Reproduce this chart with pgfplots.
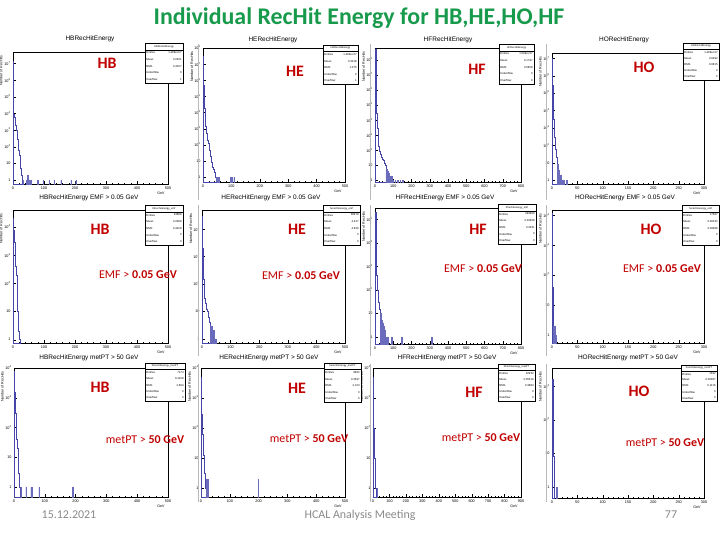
\documentclass[border=0pt]{standalone}
\usepackage{fontspec}
\setmainfont{Carlito}
\newfontfamily\rootfont{Liberation Sans}
\usepackage{pgfplots}
\pgfplotsset{compat=1.18}
\definecolor{titlegreen}{RGB}{24,154,76}
\definecolor{labred}{RGB}{192,0,0}
\definecolor{footgray}{RGB}{137,137,137}
\definecolor{histline}{RGB}{70,70,170}
\definecolor{histfill}{RGB}{175,175,228}
\pgfplotsset{
 rootaxis/.style={scale only axis, anchor=north west, log origin=infty,
  axis line style={line width=0.4pt}, every tick/.style={black,line width=0.25pt},
  major tick length=2.6pt, minor tick length=1.4pt,
  xtick pos=bottom, ytick pos=left,
  ytickten={0,1,...,9},
  tick label style={font=\rootfont\fontsize{3.8}{4}\selectfont},
  /pgf/number format/assume math mode=true,
  xticklabel style={yshift=1pt},
  yticklabel style={xshift=1pt},
  yticklabel={\pgfmathtruncatemacro{\ee}{round(\tick/2.302585093)}\ifnum\ee=0 1\else\ifnum\ee=1 10\else 10\textsuperscript{\ee}\fi\fi},
  minor x tick num=4,
  xmin=0,
  xlabel={GeV}, ylabel={Number of RecHits},
  label style={font=\rootfont\fontsize{3.6}{4}\selectfont},
  xlabel style={at={(axis description cs:1,0)}, anchor=north east, yshift=-4.5pt},
  ylabel style={at={(axis description cs:-0.045,1)}, anchor=south east},
 },
 histl/.style={const plot, no marks, draw=histline, line width=0.35pt},
 hist/.style={ybar, bar shift=0pt, draw=histline!80, fill=histfill, line width=0.22pt},
}
\newcommand{\statbox}[9]{%
 \begin{scope}[shift={(#1bp,-#2bp)}, x=1bp, y=-1bp]
  \draw[line width=0.3pt, fill=white] (0,0) rectangle (#3,#4);
  \draw[line width=0.2pt] (0,#4/6) -- (#3,#4/6);
  \node[font=\rootfont\fontsize{2.6}{3}\selectfont, inner sep=0pt] at (#3/2,#4/12) {#5};
  \foreach \sn/\sv [count=\i] in {Entries/#6, Mean/#7, RMS/#8, Underflow/0, Overflow/#9} {
    \node[font=\rootfont\fontsize{2.8}{3}\selectfont, anchor=west, inner sep=0pt] at (1.2,{#4*(2*\i+1)/12}) {\sn};
    \node[font=\rootfont\fontsize{2.8}{3}\selectfont, anchor=east, inner sep=0pt] at (#3-1.2,{#4*(2*\i+1)/12}) {\sv};
  }
 \end{scope}}
\newcommand{\detlab}[3]{\node[font=\bfseries\fontsize{16}{16}\selectfont, text=labred] at (#1bp,-#2bp) {#3};}
\newcommand{\cutlab}[4]{\node[font=\fontsize{12}{12}\selectfont, text=labred] at (#1bp,-#2bp) {#3 \textbf{#4}};}
\newcommand{\ptitle}[3]{\node[font=\rootfont\fontsize{6.5}{6.5}\selectfont] at (#1bp,-#2bp) {#3};}
\begin{document}
\begin{tikzpicture}
\path[use as bounding box] (0,0) rectangle (720bp,-540bp);
% ---------------- Row 1
\begin{semilogyaxis}[rootaxis, at={(13bp,-52bp)}, width=155bp, height=132bp, xmax=500, ymin=0.57, ymax=5e7, xtick={0,100,...,500}]
\addplot[histl] coordinates {(0,1.5e7)(2,9000)(4,6000)(6,3500)(8,2000)(10,1000)(12,600)(14,300)(16,150)(18,60)(20,30)(22,12)(24,5)(26,2)(28,1)(30,1)} \closedcycle;
\addplot[hist, bar width=2] coordinates {(33,1)(43,1)(47,2)(49,1)(53,1)(59,1)(79,1)(97,1)(117,1)(133,1)(155,1)(187,1)(203,1)};
\end{semilogyaxis}
\begin{semilogyaxis}[rootaxis, at={(203bp,-48bp)}, width=142bp, height=134bp, xmax=500, ymin=0.5, ymax=1e8, xtick={0,100,...,500}]
\addplot[histl] coordinates {(0,3e7)(2,5e5)(4,2e4)(6,3000)(8,1500)(10,900)(12,500)(14,300)(16,200)(18,120)(20,80)(22,50)(24,30)(26,20)(28,14)(30,9)(32,6)(34,4)(36,3)(38,2)(40,2)(42,1)(44,1)(46,1)} \closedcycle;
\addplot[hist, bar width=2] coordinates {(49,1)(53,1)(57,1)(97,1)(103,1)(109,1)};
\end{semilogyaxis}
\begin{semilogyaxis}[rootaxis, at={(375bp,-48bp)}, width=146bp, height=134bp, xmax=800, ymin=0.8, ymax=6e8, xtick={0,100,...,800}]
\addplot[histl] coordinates {(0,5e8)(4,1e6)(8,3e4)(12,3000)(16,600)(20,200)(24,90)(28,60)(32,45)(36,35)(40,28)(44,22)(48,18)(52,14)(56,11)(60,11)} \closedcycle;
\addplot[hist, bar width=4] coordinates {(62,6)(66,3)(70,4)(74,2)(78,3)(82,2)(86,1)(90,2)(94,1)(98,1)(110,1)(122,1)(138,1)(150,1)};
\end{semilogyaxis}
\begin{semilogyaxis}[rootaxis, at={(552bp,-53bp)}, width=152bp, height=131bp, xmax=300, ymin=0.6, ymax=2e7, xtick={0,50,...,300}]
\addplot[histl] coordinates {(0,1e7)(1,3e5)(2,2e4)(3,3000)(4,800)(5,300)(6,120)(7,60)(8,30)(9,20)(10,12)(11,12)} \closedcycle;
\addplot[hist, bar width=1] coordinates {(11.5,8)(12.5,5)(13.5,4)(14.5,3)(15.5,2)(16.5,2)(17.5,1)(18.5,1)(20.5,1)(22.5,1)(28.5,1)};
\end{semilogyaxis}
% ---------------- Row 2
\begin{semilogyaxis}[rootaxis, at={(13bp,-210bp)}, width=155bp, height=133bp, xmax=500, ymin=0.76, ymax=4e4, xtick={0,100,...,500}]
\addplot[histl] coordinates {(0,2e4)(2,8000)(4,3000)(6,1000)(8,400)(10,200)(12,40)(14,10)(16,4)(18,2)(20,1)(22,1)} \closedcycle;
\end{semilogyaxis}
\begin{semilogyaxis}[rootaxis, at={(202bp,-210bp)}, width=143bp, height=133bp, xmax=500, ymin=0.7, ymax=5e4, xtick={0,100,...,500}]
\addplot[histl] coordinates {(0,3e4)(2,2000)(4,150)(6,40)(8,30)(10,25)(12,20)(14,15)(16,12)(18,10)(20,8)(22,6)(24,5)(26,4)(28,4)} \closedcycle;
\addplot[hist, bar width=2] coordinates {(29,3)(31,2)(33,3)(35,1)(37,2)(39,1)(41,2)(43,1)(47,1)};
\end{semilogyaxis}
\begin{semilogyaxis}[rootaxis, at={(375bp,-208bp)}, width=146bp, height=136bp, xmax=800, ymin=0.5, ymax=3e5, xtick={0,100,...,800}]
\addplot[histl] coordinates {(0,2e5)(4,5000)(8,400)(12,100)(16,50)(20,30)(24,15)(28,15)} \closedcycle;
\addplot[hist, bar width=4] coordinates {(30,10)(34,8)(38,5)(42,4)(46,3)(50,2)(54,2)(58,1)(62,1)(70,1)(90,1)(146,1)(310,1)};
\end{semilogyaxis}
\begin{semilogyaxis}[rootaxis, at={(552bp,-210bp)}, width=152bp, height=133bp, xmax=300, ymin=0.53, ymax=1.5e4, xtick={0,50,...,300}]
\addplot[histl] coordinates {(0,1.2e4)(1,40)(2,3)(3,3)} \closedcycle;
\addplot[hist, bar width=1] coordinates {(3.5,2)(4.5,1)(5.5,2)(6.5,1)(7.5,1)};
\end{semilogyaxis}
% ---------------- Row 3
\begin{semilogyaxis}[rootaxis, at={(14bp,-368bp)}, width=154bp, height=129bp, xmax=500, ymin=0.46, ymax=1e4, xtick={0,100,...,500}]
\addplot[histl] coordinates {(0,8000)(2,1500)(4,300)(6,120)(8,40)(10,20)(12,8)(14,3)(16,2)(18,1)(20,1)} \closedcycle;
\addplot[hist, bar width=2] coordinates {(23,1)(39,1)(55,1)(59,1)(81,1)(191,1)};
\end{semilogyaxis}
\begin{semilogyaxis}[rootaxis, at={(201bp,-368bp)}, width=144bp, height=129bp, xmax=500, ymin=0.5, ymax=1e4, xtick={0,100,...,500}]
\addplot[histl] coordinates {(0,5000)(2,300)(4,60)(6,25)(8,12)(10,6)(12,3)(14,2)(16,1)(18,1)} \closedcycle;
\addplot[hist, bar width=2] coordinates {(19,2)(23,2)(25,1)(199,2)};
\end{semilogyaxis}
\begin{semilogyaxis}[rootaxis, at={(373bp,-368bp)}, width=148bp, height=129bp, xmax=900, ymin=0.5, ymax=1e4, xtick={0,100,...,900}]
\addplot[histl] coordinates {(0,5000)(4,100)(8,10)(12,2)(16,1)(20,1)} \closedcycle;
\addplot[hist, bar width=4] coordinates {(26,1)};
\end{semilogyaxis}
\begin{semilogyaxis}[rootaxis, at={(552bp,-368bp)}, width=152bp, height=130bp, xmax=300, ymin=0.47, ymax=3500, xtick={0,50,...,300}]
\addplot[histl, line width=0.6pt] coordinates {(0,1580)(2,8)(4,8)} \closedcycle;
\addplot[hist, bar width=2] coordinates {(9,1)};
\end{semilogyaxis}
% ---------------- separators
\foreach \xx in {198,370,546}{
  \draw[gray!55, line width=0.5pt] (\xx bp,-44bp) -- (\xx bp,-200bp);
  \draw[gray!55, line width=0.5pt] (\xx bp,-205bp) -- (\xx bp,-356bp);
  \draw[gray!55, line width=0.5pt] (\xx bp,-364bp) -- (\xx bp,-502bp);
}
% ---------------- stats boxes
\statbox{145}{43}{38}{40}{HBRecHitEnergy}{1.499e+07}{0.2931}{0.4037}{1}
\statbox{323}{45}{35}{39}{HERecHitEnergy}{1.499e+07}{0.3018}{1.075}{1}
\statbox{499}{44}{35}{40}{HFRecHitEnergy}{1.599e+07}{0.1797}{0.5858}{0}
\statbox{683}{43}{36}{37}{HORecHitEnergy}{1.499e+07}{0.0492}{0.0815}{0}
\statbox{145}{205}{38}{40}{hbrechitenergy\_emf}{43888}{0.2488}{0.4228}{0}
\statbox{323}{205}{37}{40}{herechitenergy\_emf}{38979}{4.427}{4.829}{0}
\statbox{498}{204}{38}{40}{hfrechitenergy\_emf}{293966}{0.03458}{0.3331}{0}
\statbox{682}{205}{37}{40}{horechitenergy\_emf}{17587}{0.00233}{0.09588}{0}
\statbox{145}{363}{40}{38}{hbrechitenergy\_metPT}{7174}{0.4108}{2.694}{0}
\statbox{324}{363}{37}{39}{herechitenergy\_metPT}{9862}{0.3597}{2.103}{0}
\statbox{498}{364}{37}{37}{hfrechitenergy\_metPT}{32930}{0.05519}{0.3884}{0}
\statbox{681}{365}{36}{36}{horechitenergy\_metPT}{1592}{0.00387}{0.1115}{0}
% ---------------- panel titles
\ptitle{90}{39}{HBRecHitEnergy}
\ptitle{273}{40}{HERecHitEnergy}
\ptitle{448}{40}{HFRecHitEnergy}
\ptitle{624}{40}{HORecHitEnergy}
\ptitle{89}{198}{HBRecHitEnergy EMF > 0.05 GeV}
\ptitle{271}{198}{HERecHitEnergy EMF > 0.05 GeV}
\ptitle{445}{198}{HFRecHitEnergy EMF > 0.05 GeV}
\ptitle{625}{198}{HORecHitEnergy EMF > 0.05 GeV}
\ptitle{89}{358}{HBRecHitEnergy metPT > 50 GeV}
\ptitle{269}{358}{HERecHitEnergy metPT > 50 GeV}
\ptitle{447}{358}{HFRecHitEnergy metPT > 50 GeV}
\ptitle{628}{358}{HORecHitEnergy metPT > 50 GeV}
% ---------------- red labels
\detlab{107}{63}{HB}\detlab{295}{71}{HE}\detlab{477}{69}{HF}\detlab{644}{67}{HO}
\detlab{100}{229}{HB}\detlab{297}{229}{HE}\detlab{478}{229}{HF}\detlab{651}{229}{HO}
\detlab{100}{387}{HB}\detlab{297}{388}{HE}\detlab{474}{392}{HF}\detlab{639}{391}{HO}
\cutlab{138}{275}{EMF >}{0.05 GeV}\cutlab{301}{276}{EMF >}{0.05 GeV}\cutlab{483}{269}{EMF >}{0.05 GeV}\cutlab{662}{269}{EMF >}{0.05 GeV}
\cutlab{145}{440}{metPT >}{50 GeV}\cutlab{309}{439}{metPT >}{50 GeV}\cutlab{481}{438}{metPT >}{50 GeV}\cutlab{665}{443}{metPT >}{50 GeV}
% ---------------- slide title and footer
\node[font=\bfseries\fontsize{24}{24}\selectfont, text=titlegreen] at (359bp,-18bp) {Individual RecHit Energy for HB,HE,HO,HF};
\node[font=\fontsize{12}{12}\selectfont, text=footgray] at (69bp,-515bp) {15.12.2021};
\node[font=\fontsize{12}{12}\selectfont, text=footgray] at (360bp,-515bp) {HCAL Analysis Meeting};
\node[font=\fontsize{12}{12}\selectfont, text=footgray] at (671bp,-515bp) {77};
\end{tikzpicture}
\end{document}
